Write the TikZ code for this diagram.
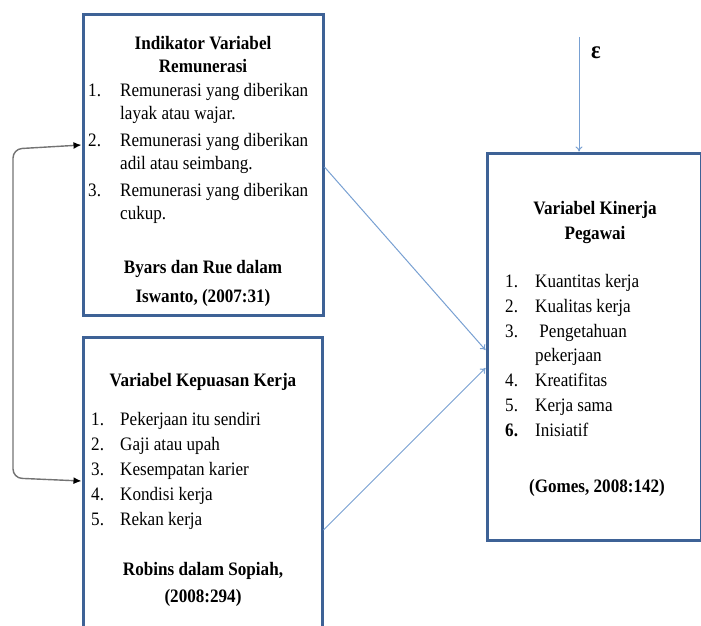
\documentclass[tikz,border=0pt]{standalone}
\usepackage{fontspec}
\setmainfont[FakeStretch=0.9]{Liberation Serif}
\usetikzlibrary{arrows.meta}

\definecolor{boxblue}{RGB}{62,98,150}
\definecolor{linkblue}{RGB}{120,160,210}

\tikzset{
  varbox/.style={draw=boxblue, line width=3pt, rectangle, inner sep=0pt},
  boxtitle/.style={font=\fontsize{19}{23}\selectfont\bfseries, align=center, anchor=base, inner sep=0pt},
  boxlist/.style={anchor=base west, inner sep=0pt},
  linkarrow/.style={draw=linkblue, line width=1pt, -{To[length=5pt,width=7pt]}},
  loopline/.style={draw=black!55, line width=1.4pt, rounded corners=9pt,
    {Latex[length=8pt,width=7pt,black]}-{Latex[length=8pt,width=7pt,black]}},
}

\begin{document}
\begin{tikzpicture}[x=1pt,y=-1pt,font=\fontsize{19}{23}\selectfont]
  \clip (0,0) rectangle (701,626);
  % the three variable boxes
  \node[varbox, minimum width=240pt, minimum height=300pt] (rem) at (203,165) {};
  \node[varbox, minimum width=239pt, minimum height=324pt] (kep) at (202.5,499) {};
  \node[varbox, minimum width=214pt, minimum height=387pt] (kin) at (594,346.5) {};

  % remunerasi
  \node[boxtitle] (remtitle) at (203,72) {Indikator Variabel\\Remunerasi};
  \node[boxlist] (remlist) at (88,96) {\begin{tabular}[t]{@{}p{32pt}@{}l@{}}
    1.&Remunerasi yang diberikan\\&layak atau wajar.\\[4pt]
    2.&Remunerasi yang diberikan\\&adil atau seimbang.\\[4pt]
    3.&Remunerasi yang diberikan\\&cukup.\end{tabular}};
  \node[boxtitle] (remsrc) at (203,302) {Byars dan Rue dalam\\[6pt]Iswanto, (2007:31)};

  % kepuasan kerja
  \node[boxtitle] (keptitle) at (203,386) {Variabel Kepuasan Kerja};
  \node[boxlist] (keplist) at (91,425) {\begin{tabular}[t]{@{}p{29pt}@{}l@{}}
    1.&Pekerjaan itu sendiri\\[2pt]
    2.&Gaji atau upah\\[2pt]
    3.&Kesempatan karier\\[2pt]
    4.&Kondisi kerja\\[2pt]
    5.&Rekan kerja\end{tabular}};
  \node[boxtitle] (kepsrc) at (203,602) {Robins dalam Sopiah,\\[4pt](2008:294)};

  % kinerja pegawai
  \node[boxtitle] (kintitle) at (595,239) {Variabel Kinerja\\[2pt]Pegawai};
  \node[boxlist] (kinlist) at (505,287) {\begin{tabular}[t]{@{}p{30pt}@{}l@{}}
    1.&Kuantitas kerja\\[2pt]
    2.&Kualitas kerja\\[2pt]
    3.&\ Pengetahuan\\[1pt]
    &pekerjaan\\[2pt]
    4.&Kreatifitas\\[2pt]
    5.&Kerja sama\\[2pt]
    \textbf{6.}&Inisiatif\end{tabular}};
  \node[boxtitle] (kinsrc) at (597,492) {(Gomes, 2008:142)};

  % error term
  \coordinate (epstop) at (579,37);
  \node[font=\fontsize{25}{28}\selectfont\bfseries, inner sep=0pt] (eps) at (596,53) {ε};

  % connectors
  \draw[linkarrow] ([yshift=-2pt]rem.east) -- ([yshift=-3.5pt]kin.west);
  \draw[linkarrow] ([yshift=-31pt]kep.east) -- ([yshift=-21.5pt]kin.west);
  \draw[linkarrow] (epstop) -- ([xshift=-15pt]kin.north);
  \draw[loopline] ([yshift=20pt]rem.west) -- (13,149) -- (13,478) -- ([yshift=18pt]kep.west);
\end{tikzpicture}
\end{document}
